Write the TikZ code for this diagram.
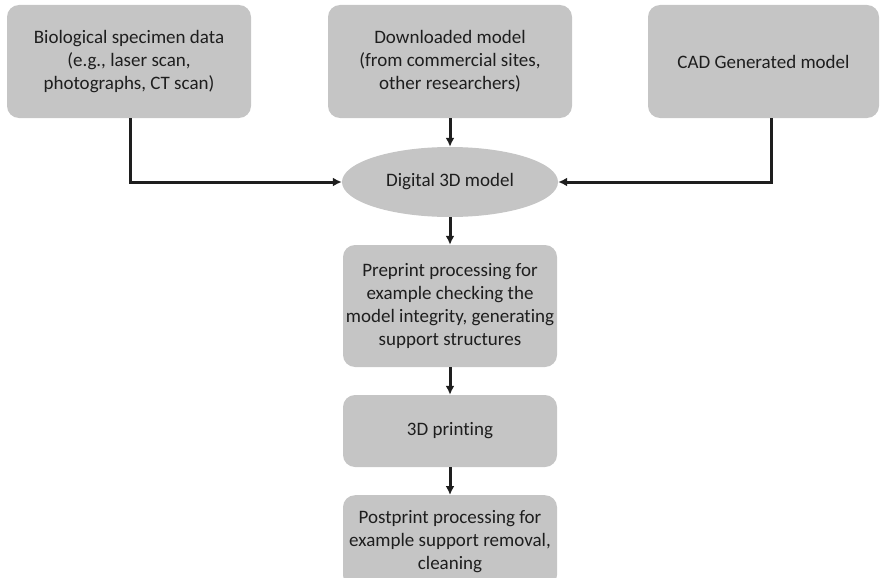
\documentclass[tikz,border=0pt]{standalone}
\usepackage{fontspec}
\setmainfont{Carlito}[Ligatures=NoCommon]
\usetikzlibrary{shapes.geometric,arrows.meta,positioning}

\definecolor{boxgray}{RGB}{197,197,197}
\definecolor{inkgray}{RGB}{30,30,30}

\tikzset{
  stage/.style={rectangle, rounded corners=12pt, fill=boxgray, align=center,
    text=inkgray, inner sep=0pt, font=\fontsize{19}{23}\selectfont},
  hub/.style={ellipse, fill=boxgray, inner sep=0pt, text=inkgray,
    font=\fontsize{19}{23}\selectfont},
  flow/.style={-{Latex[length=9pt,width=9pt]}, line width=3pt, draw=inkgray}
}

\begin{document}
\begin{tikzpicture}[x=1pt,y=-1pt]
    \clip (0,0) rectangle (881,578);
    \useasboundingbox (0,0) rectangle (881,578);

    % Sources
    \node[stage, minimum width=244pt, minimum height=113pt] (bio) at (129,61.5)
        {Biological specimen data\\(e.g., laser scan,\\photographs, CT scan)};
    \node[stage, minimum width=244pt, minimum height=113pt] (download) at (450,61.5)
        {Downloaded model\\(from commercial sites,\\other researchers)};
    \node[stage, minimum width=231pt, minimum height=113pt] (cad) at (763.5,61.5)
        {CAD Generated model};

    % Model
    \node[hub, minimum width=216pt, minimum height=70pt] (digital) at (450,182)
        {Digital 3D model};

    % Processing chain
    \node[stage, minimum width=214pt, minimum height=122pt] (preprint) at (450,306)
        {Preprint processing for\\example checking the\\model integrity, generating\\support structures};
    \node[stage, minimum width=214pt, minimum height=72pt] (printing) at (450,431)
        {3D printing};
    \node[stage, minimum width=214pt, minimum height=92pt, anchor=north] (postprint) at (450,495)
        {Postprint processing for\\example support removal,\\cleaning};

    % Arrows
    \draw[flow] (bio.south) ++(1,0) |- (digital.west);
    \draw[flow] (download) -- (digital);
    \draw[flow] ([xshift=7.5pt]cad.south) |- (digital.east);
    \draw[flow] (digital) -- (preprint);
    \draw[flow] (preprint) -- (printing);
    \draw[flow] (printing) -- (postprint);
\end{tikzpicture}
\end{document}
